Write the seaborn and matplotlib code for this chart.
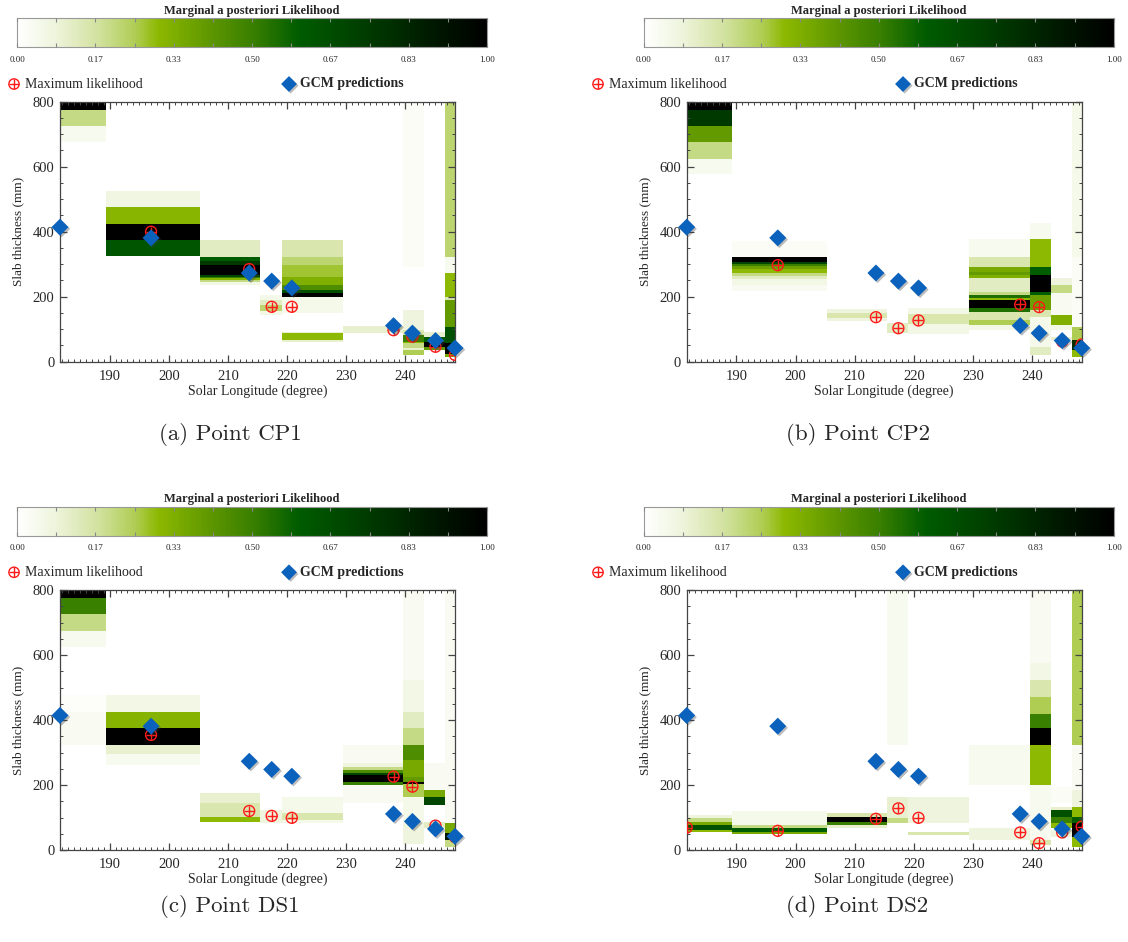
import numpy as np
import pandas as pd
import matplotlib
matplotlib.use("Agg")
import matplotlib.pyplot as plt
import matplotlib.patheffects as pe
import seaborn as sns
from matplotlib.colors import LinearSegmentedColormap, Normalize
from matplotlib.cm import ScalarMappable
from matplotlib.ticker import MultipleLocator, FixedLocator

# ── Data ─────────────────────────────────────────────────────────────────────
# solar longitude of each observation (deg)
LS = [181.6, 197.0, 213.6, 217.4, 220.8, 238.0, 241.2, 245.1, 248.4]
# GCM slab thickness predictions (mm)
GCM_PRED = [414, 381, 273, 248, 227, 111, 88, 65, 42]

# maximum likelihood slab thickness (mm), NaN = off the plot
ML_CP1 = [np.nan, 400, 285, 169, 169, 97, 77, 46, 21]
ML_CP2 = [np.nan, 297, 137, 103, 127, 176, 168, 62, 53]
ML_DS1 = [np.nan, 354, 120, 105, 99, 226, 195, 75, 40]
ML_DS2 = [69, 59, 96, 128, 99, 54, 21, 54, 72]

# marginal likelihood per observation column: (low mm, high mm, value)
BANDS_CP1 = [
    [(775, 800, 1.0), (725, 775, 0.2), (675, 725, 0.04)],
    [(475, 525, 0.07), (425, 475, 0.31), (375, 425, 1.0), (325, 375, 0.63)],
    [(323, 374, 0.12), (310, 323, 0.6), (297, 310, 0.75), (267, 297, 1.0),
     (261, 267, 0.7), (256, 261, 0.5), (251, 256, 0.32), (246, 251, 0.2),
     (236, 246, 0.06)],
    [(190, 205, 0.05), (175, 190, 0.12), (155, 175, 0.22), (145, 155, 0.06)],
    [(323, 374, 0.15), (297, 323, 0.22), (262, 297, 0.27), (236, 262, 0.33),
     (221, 236, 0.45), (210, 221, 0.65), (198, 210, 1.0), (149, 198, 0.05),
     (87, 92, 0.1), (67, 87, 0.3), (62, 67, 0.1)],
    [(89, 110, 0.1)],
    [(292, 800, 0.02), (97, 159, 0.08), (82, 97, 0.15), (61, 82, 0.5),
     (56, 61, 0.3), (41, 56, 0.2), (36, 41, 0.1), (20, 36, 0.25)],
    [(77, 92, 0.1), (61, 77, 0.6), (46, 61, 1.0), (36, 46, 0.4)],
    [(323, 800, 0.22), (272, 323, 0.04), (200, 272, 0.3), (190, 200, 0.15),
     (108, 190, 0.4), (56, 108, 0.65), (25, 56, 1.0), (15, 25, 0.35)],
]
BANDS_CP2 = [
    [(775, 800, 1.0), (725, 775, 0.75), (675, 725, 0.4), (625, 675, 0.2),
     (577, 625, 0.04)],
    [(323, 371, 0.02), (308, 323, 1.0), (301, 308, 0.7), (294, 301, 0.5),
     (284, 294, 0.38), (274, 284, 0.3), (263, 274, 0.2), (253, 263, 0.12),
     (235, 253, 0.06), (217, 235, 0.03)],
    [(150, 161, 0.08), (135, 150, 0.15), (125, 135, 0.08)],
    [(89, 120, 0.12)],
    [(146, 166, 0.06), (115, 146, 0.15), (84, 115, 0.06)],
    [(323, 377, 0.04), (292, 323, 0.15), (277, 292, 0.35), (267, 277, 0.4),
     (256, 267, 0.33), (215, 256, 0.12), (205, 215, 0.2), (195, 205, 0.55),
     (190, 195, 0.3), (164, 190, 1.0), (154, 164, 0.55), (128, 154, 0.15),
     (113, 128, 0.25), (98, 113, 0.06)],
    [(378, 426, 0.04), (292, 378, 0.3), (267, 292, 0.6), (215, 267, 1.0),
     (205, 215, 0.6), (159, 205, 0.38), (138, 159, 0.15), (46, 138, 0.05),
     (21, 46, 0.12)],
    [(236, 256, 0.08), (210, 236, 0.2), (144, 210, 0.03), (113, 144, 0.33),
     (98, 113, 0.06), (67, 77, 0.1)],
    [(323, 800, 0.05), (108, 323, 0.02), (67, 108, 0.25), (36, 67, 0.8),
     (15, 36, 0.3)],
]
BANDS_DS1 = [
    [(775, 800, 1.0), (725, 775, 0.5), (675, 725, 0.2), (626, 675, 0.04),
     (426, 477, 0.015), (323, 426, 0.03)],
    [(426, 477, 0.06), (374, 426, 0.32), (323, 374, 1.0), (295, 323, 0.1),
     (262, 295, 0.04)],
    [(144, 174, 0.1), (103, 144, 0.15), (87, 103, 0.3)],
    [(82, 123, 0.08)],
    [(113, 164, 0.05), (92, 113, 0.15), (82, 92, 0.05)],
    [(267, 323, 0.03), (256, 267, 0.08), (246, 256, 0.2), (238, 246, 0.45),
     (231, 238, 0.7), (210, 231, 1.0), (200, 210, 0.5), (144, 200, 0.03)],
    [(523, 800, 0.03), (426, 523, 0.06), (374, 426, 0.12), (323, 374, 0.2),
     (277, 323, 0.45), (226, 277, 0.35), (208, 226, 0.4), (203, 208, 1.0),
     (164, 203, 0.25), (82, 164, 0.05), (20, 82, 0.08)],
    [(185, 267, 0.03), (164, 185, 0.35), (138, 164, 0.7), (67, 87, 0.12)],
    [(82, 800, 0.03), (51, 82, 0.35), (31, 51, 0.9), (10, 31, 0.2)],
]
BANDS_DS2 = [
    [(98, 108, 0.08), (87, 98, 0.2), (77, 87, 0.35), (61, 77, 0.65),
     (55, 61, 0.3)],
    [(78, 119, 0.05), (67, 78, 0.2), (56, 67, 0.6), (48, 56, 0.35)],
    [(103, 113, 0.15), (87, 103, 1.0), (77, 87, 0.5), (67, 77, 0.1)],
    [(323, 800, 0.04), (100, 164, 0.1), (82, 100, 0.2)],
    [(82, 164, 0.08), (46, 56, 0.15)],
    [(200, 323, 0.04), (31, 67, 0.08)],
    [(574, 800, 0.03), (523, 574, 0.06), (472, 523, 0.15), (420, 472, 0.25),
     (374, 420, 0.5), (323, 374, 1.0), (200, 323, 0.3), (31, 200, 0.04),
     (15, 31, 0.15)],
    [(144, 195, 0.02), (123, 133, 0.1), (103, 123, 0.65), (82, 103, 0.5),
     (67, 82, 0.3), (41, 61, 0.08)],
    [(323, 800, 0.25), (185, 323, 0.03), (133, 185, 0.08), (103, 133, 0.3),
     (82, 103, 0.6), (41, 82, 1.0), (10, 41, 0.3)],
]

CAPTIONS = ["(a) Point CP1", "(b) Point CP2", "(c) Point DS1", "(d) Point DS2"]
CB_TICKS = [0, 1 / 6, 2 / 6, 3 / 6, 4 / 6, 5 / 6, 1]

# ── Style ────────────────────────────────────────────────────────────────────
sns.set_theme(style="ticks")
plt.rcParams["font.family"] = ["Liberation Serif", "DejaVu Serif"]
plt.rcParams["axes.axisbelow"] = False   # keep inward ticks above the mesh

cmap = LinearSegmentedColormap.from_list("likelihood", [
    (0.00, "#ffffff"), (0.08, "#eef4dc"), (0.17, "#d2e2a0"),
    (0.25, "#b0cd55"), (0.30, "#8cb800"), (0.42, "#5a9400"),
    (0.50, "#3a8000"), (0.60, "#005c00"), (0.75, "#003a00"),
    (0.88, "#001a00"), (1.00, "#000000"),
])
norm = Normalize(0, 1)
RED = "#ff1a1a"
BLUE = "#0b62bd"
SPINE = "#444444"
SHADOW = [pe.SimplePatchShadow(offset=(1.2, -1.2), shadow_rgbFace="#404040",
                               alpha=0.35), pe.Normal()]

W, H = 1128, 942


def box(x0, y0, x1, y1):
    """pixel box -> figure fraction [left, bottom, width, height]"""
    return [x0 / W, 1 - y1 / H, (x1 - x0) / W, (y1 - y0) / H]


ls = np.array(LS)
x_edges = np.concatenate([[ls[0]], (ls[:-1] + ls[1:]) / 2, [ls[-1]]])
y_edges = np.arange(0, 801, 1)
y_mid = 0.5 * (y_edges[:-1] + y_edges[1:])


def build_grid(bands):
    z = np.zeros((len(y_mid), len(LS)))
    for j, col in enumerate(bands):
        for lo, hi, v in col:
            z[(y_mid >= lo) & (y_mid < hi), j] = v
    return z


fig = plt.figure(figsize=(W / 100, H / 100), dpi=100)
ov = fig.add_axes([0, 0, 1, 1])
ov.set_xlim(0, W)
ov.set_ylim(H, 0)
ov.axis("off")

panels = [
    (BANDS_CP1, ML_CP1, 0, 0),
    (BANDS_CP2, ML_CP2, 1, 0),
    (BANDS_DS1, ML_DS1, 0, 1),
    (BANDS_DS2, ML_DS2, 1, 1),
]

for k, (bands, ml, cx, cy) in enumerate(panels):
    ox = 626.7 * cx
    oy = 488.3 * cy

    # ── colorbar ────────────────────────────────────────────────────────────
    cax = fig.add_axes(box(17 + ox, 18.3 + oy, 487 + ox, 47.3 + oy))
    cb = fig.colorbar(ScalarMappable(norm=norm, cmap=cmap), cax=cax,
                      orientation="horizontal")
    cax.set_axisbelow(False)
    cb.set_ticks(CB_TICKS)
    cb.set_ticklabels([f"{t:.2f}" for t in CB_TICKS])
    cax.xaxis.set_minor_locator(FixedLocator([1 / 12 + i / 6 for i in range(6)]))
    cax.tick_params(which="both", direction="in", top=True, bottom=True,
                    length=3, width=0.8, color="#888888", labelsize=6.5,
                    pad=6)
    cb.outline.set_edgecolor("#999999")
    cb.outline.set_linewidth(0.8)
    cax.set_title("Marginal a posteriori Likelihood", fontsize=9,
                  fontweight="bold", pad=3)

    # ── legend row ──────────────────────────────────────────────────────────
    mx, dx = (14, 289) if cx == 0 else (598, 903)
    ly = 84 + oy
    ov.scatter([mx], [ly], s=55, marker="o", facecolors="none",
               edgecolors=RED, linewidths=1.0)
    ov.scatter([mx], [ly], s=55, marker="+", color=RED, linewidths=1.0)
    ov.text(mx + 11, ly, "Maximum likelihood", fontsize=10, va="center")
    ov.scatter([dx], [ly], s=65, marker="D", color=BLUE, linewidths=0,
               path_effects=SHADOW)
    ov.text(dx + 11, ly, "GCM predictions", fontsize=10, fontweight="bold",
            va="center")

    # ── main panel ──────────────────────────────────────────────────────────
    ax = fig.add_axes(box(60 + ox, 101.7 + oy, 455 + ox, 361.7 + oy))
    ax.set_axisbelow(False)
    ax.pcolormesh(x_edges, y_edges, build_grid(bands), cmap=cmap, norm=norm,
                  shading="flat", zorder=1)

    df = pd.DataFrame({"ls": LS, "ml": ml, "gcm": GCM_PRED})
    sns.scatterplot(data=df, x="ls", y="ml", ax=ax, s=62, marker="o",
                    facecolors="none", edgecolor=RED, linewidth=1.0, zorder=3)
    sns.scatterplot(data=df, x="ls", y="ml", ax=ax, s=62, marker="+",
                    color=RED, linewidth=1.0, zorder=3)
    sns.scatterplot(data=df, x="ls", y="gcm", ax=ax, s=75, marker="D",
                    color=BLUE, edgecolor="none", zorder=4, clip_on=False,
                    path_effects=SHADOW)

    ax.set_xlim(LS[0], LS[-1])
    ax.set_ylim(0, 800)
    ax.xaxis.set_major_locator(MultipleLocator(10))
    ax.xaxis.set_minor_locator(MultipleLocator(1))
    ax.yaxis.set_major_locator(MultipleLocator(200))
    ax.yaxis.set_minor_locator(MultipleLocator(50))
    ax.tick_params(which="both", direction="in", top=True, right=True,
                   bottom=True, left=True, color=SPINE, labelsize=10.5)
    ax.tick_params(which="major", length=5, width=0.9)
    ax.tick_params(which="minor", length=2.5, width=0.7)
    ax.tick_params(axis="x", which="major", pad=6)
    ax.tick_params(axis="y", which="major", pad=4)
    for sp in ax.spines.values():
        sp.set_color(SPINE)
        sp.set_linewidth(0.9)
    ax.set_xlabel("Solar Longitude (degree)", fontsize=10, labelpad=1)
    ax.set_ylabel("Slab thickness (mm)", fontsize=9.5, labelpad=6)

    # ── caption ─────────────────────────────────────────────────────────────
    ov.text(230 + 627.5 * cx, 435 + 472 * cy, CAPTIONS[k], fontsize=16.5,
            ha="center", va="center", family=["cmr10", "DejaVu Serif"])

fig.savefig("out.png", dpi=100, facecolor="white")
